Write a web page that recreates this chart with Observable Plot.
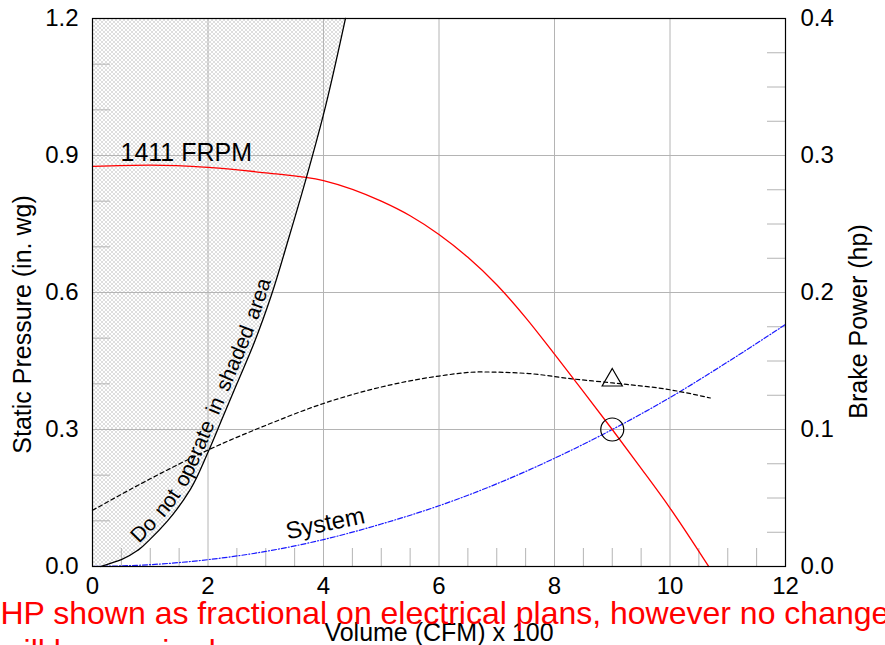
<!DOCTYPE html>
<html>
<head>
<meta charset="utf-8">
<script src="https://cdn.jsdelivr.net/npm/d3@7"></script>
<script src="https://cdn.jsdelivr.net/npm/@observablehq/plot@0.6"></script>
<style>
  html, body { margin: 0; padding: 0; background: #fff; overflow: hidden; }
</style>
</head>
<body>
<script>
// ---------- data ----------
// Fan curve, 1411 FRPM: volume (CFM x 100) vs static pressure (in. wg)
const fanQ  = [0, 1, 2, 3, 4, 5, 5.5, 6, 6.5, 7, 7.5, 8, 8.5, 9, 9.5, 10, 10.67];
const fanSP = [0.876, 0.879, 0.874, 0.862, 0.845, 0.80, 0.768, 0.727, 0.677, 0.617, 0.545, 0.465, 0.383, 0.30, 0.215, 0.128, 0];

// Brake power curve (hp, right axis)
const bhpQ = [0, 1, 2, 3, 4, 5, 6, 6.7, 7.5, 8.3, 9, 10, 10.7];
const bhpHP = [0.041, 0.064, 0.085, 0.103, 0.119, 0.131, 0.139, 0.142, 0.141, 0.137, 0.134, 0.129, 0.123];

// System curve
const sysQ  = [0, 1, 2, 3, 4, 5, 6, 7, 8, 9, 10, 11, 12];
const sysSP = [0, 0.004, 0.015, 0.033, 0.059, 0.093, 0.133, 0.181, 0.237, 0.300, 0.370, 0.448, 0.530];

// "Do not operate" boundary
const bndQ  = [0.14, 0.5, 0.8, 1.0, 1.3, 1.7, 2.0, 2.25, 2.5, 2.8, 3.1, 3.4, 3.7, 4.0, 4.38];
const bndSP = [0, 0.015, 0.037, 0.06, 0.10, 0.17, 0.25, 0.325, 0.40, 0.49, 0.595, 0.72, 0.85, 0.99, 1.2];

// Operating point
const opQ = [9];
const opSP = [0.30];
const opHP = [0.136];

// Axes
const xTicks = [0, 2, 4, 6, 8, 10, 12];
const xTickLabels = ["0", "2", "4", "6", "8", "10", "12"];
const yTicks = [0, 0.3, 0.6, 0.9, 1.2];
const yTickLabels = ["0.0", "0.3", "0.6", "0.9", "1.2"];
const hpTicks = [0, 0.1, 0.2, 0.3, 0.4];
const hpTickLabels = ["0.0", "0.1", "0.2", "0.3", "0.4"];
const hpToSP = 1.2 / 0.4;

const xTitle = "Volume (CFM) x 100";
const yTitle = "Static Pressure (in. wg)";
const y2Title = "Brake Power (hp)";
const fanLabel = "1411 FRPM";
const sysLabel = "System";
const shadeLabel = "Do not operate in shaded area";
const noteLines = ["HP shown as fractional on electrical plans, however no change", "will be required."];

// label anchors (data units)
const fanLabelQ = [0.485], fanLabelSP = [0.906];
const sysLabelQ = [4.03], sysLabelSP = [0.094];
const shadeStartQ = 0.86;

// ---------- build tables ----------
const fan = fanQ.map((q, i) => ({q, sp: fanSP[i]}));
const bhp = bhpQ.map((q, i) => ({q, sp: bhpHP[i] * hpToSP}));
const sys = sysQ.map((q, i) => ({q, sp: sysSP[i]}));
const bnd = bndQ.map((q, i) => ({q, sp: bndSP[i]}));
const op = opQ.map((q, i) => ({q, sp: opSP[i], hp: opHP[i] * hpToSP}));

const xMinor = d3.range(0.5, 12, 0.5).filter(v => v % 2 !== 0);
const yMinor = d3.range(0.1, 1.2, 0.1).filter(v => Math.abs(v / 0.3 - Math.round(v / 0.3)) > 1e-6);
const hpMinor = d3.range(0.025, 0.4, 0.025).filter(v => Math.abs(v / 0.1 - Math.round(v / 0.1)) > 1e-6).map(v => v * hpToSP);

const FONT = "Liberation Sans, Arial, Helvetica, sans-serif";
const GRID = "#b4b4b4";
const tickLenX = 18 / 57.75;   // ~18px in x data units
const tickLenY = 18 / 456.67;  // ~18px in y data units

const chart = Plot.plot({
  width: 885,
  height: 645,
  marginTop: 18,
  marginBottom: 79,
  marginLeft: 92,
  marginRight: 100,
  x: {domain: [0, 12], axis: null},
  y: {domain: [0, 1.2], axis: null},
  style: {fontFamily: FONT, background: "white", color: "black"},
  marks: [
    // shaded (do not operate) area
    Plot.areaX(bnd, {y: "sp", x1: () => 0, x2: "q", fill: "url(#hatch)", curve: "monotone-y"}),
    // grid
    Plot.ruleX(xTicks.slice(1, -1), {stroke: GRID, strokeWidth: 1}),
    Plot.ruleY(yTicks.slice(1, -1), {stroke: GRID, strokeWidth: 1}),
    // minor ticks (inside)
    Plot.ruleX(xMinor, {y1: () => 0, y2: () => tickLenY, stroke: GRID}),
    Plot.ruleY(yMinor, {x1: () => 0, x2: () => tickLenX, stroke: GRID}),
    Plot.ruleY(hpMinor, {x1: () => 12 - tickLenX, x2: () => 12, stroke: GRID}),
    // curves
    Plot.line(sys, {x: "q", y: "sp", stroke: "#1a1aff", strokeWidth: 1.2, strokeDasharray: "5,2,1,2", curve: "monotone-x"}),
    Plot.line(bhp, {x: "q", y: "sp", stroke: "black", strokeWidth: 1.2, strokeDasharray: "4,3", curve: "monotone-x"}),
    Plot.line(fan, {x: "q", y: "sp", stroke: "#ff0000", strokeWidth: 1.3, curve: "monotone-x"}),
    Plot.line(bnd, {x: "q", y: "sp", stroke: "black", strokeWidth: 1.3, curve: "monotone-y"}),
    // operating point markers
    Plot.dot(op, {x: "q", y: "sp", r: 11.5, stroke: "black", strokeWidth: 1.2, fill: "none"}),
    Plot.dot(op, {x: "q", y: "hp", r: 7.5, symbol: "triangle", stroke: "black", strokeWidth: 1.2, fill: "none"}),
    // frame
    Plot.frame({stroke: "black", strokeWidth: 1.2}),
    // tick labels
    Plot.text(xTicks, {x: d => d, y: () => 0, text: (d, i) => xTickLabels[i], dy: 20, fontSize: 24, fill: "black"}),
    Plot.text(yTicks, {x: () => 0, y: d => d, text: (d, i) => yTickLabels[i], dx: -14, textAnchor: "end", fontSize: 24, fill: "black"}),
    Plot.text(hpTicks, {x: () => 12, y: d => d * hpToSP, text: (d, i) => hpTickLabels[i], dx: 15, textAnchor: "start", fontSize: 24, fill: "black"}),
    // axis titles
    Plot.text([xTitle], {frameAnchor: "bottom", text: d => d, dy: 74, lineAnchor: "bottom", textAnchor: "middle", fontSize: 25, fill: "black"}),
    Plot.text([yTitle], {frameAnchor: "left", text: d => d, dx: -70, dy: 32, rotate: -90, textAnchor: "middle", fontSize: 25, fill: "black"}),
    Plot.text([y2Title], {frameAnchor: "right", text: d => d, dx: 73, dy: 29, rotate: -90, textAnchor: "middle", fontSize: 25, fill: "black"}),
    // curve labels
    Plot.text(fanLabelQ, {x: d => d, y: (d, i) => fanLabelSP[i], text: () => fanLabel, textAnchor: "start", fontSize: 25, fill: "black"}),
    Plot.text(sysLabelQ, {x: d => d, y: (d, i) => sysLabelSP[i], text: () => sysLabel, rotate: -12, fontSize: 24, fill: "black"}),
    // red note overlay
    Plot.text([noteLines[0]], {frameAnchor: "bottom-left", text: d => d, dx: -92, dy: 57, lineAnchor: "bottom", textAnchor: "start", fontSize: 32, fill: "#ff0000"}),
    Plot.text([noteLines[1]], {frameAnchor: "bottom-left", text: d => d, dx: -92, dy: 95, lineAnchor: "bottom", textAnchor: "start", fontSize: 32, fill: "#ff0000"})
  ]
});

document.body.appendChild(chart);

// hatch pattern for the shaded region
const ns = "http://www.w3.org/2000/svg";
const defs = document.createElementNS(ns, "defs");
const pat = document.createElementNS(ns, "pattern");
pat.setAttribute("id", "hatch");
pat.setAttribute("patternUnits", "userSpaceOnUse");
pat.setAttribute("width", "4");
pat.setAttribute("height", "4");
const bg = document.createElementNS(ns, "rect");
bg.setAttribute("width", "4"); bg.setAttribute("height", "4"); bg.setAttribute("fill", "#ffffff");
const hp = document.createElementNS(ns, "path");
hp.setAttribute("d", "M0,0L4,4M4,0L0,4");
hp.setAttribute("stroke", "#bcbcbc");
hp.setAttribute("stroke-width", "0.5");
pat.appendChild(bg); pat.appendChild(hp);
defs.appendChild(pat);
chart.insertBefore(defs, chart.firstChild);

// text along the boundary curve, positioned through Plot's scales
const sx = chart.scale("x"), sy = chart.scale("y");
const guide = document.createElementNS(ns, "path");
guide.setAttribute("id", "bndGuide");
guide.setAttribute("fill", "none");
guide.setAttribute("stroke", "none");
guide.setAttribute("d", d3.line().x(d => sx.apply(d.q)).y(d => sy.apply(d.sp)).curve(d3.curveMonotoneY)(bnd));
chart.appendChild(guide);
const total = guide.getTotalLength();
const targetX = sx.apply(shadeStartQ);
let lo = 0, hi = total;
for (let k = 0; k < 40; k++) {
  const mid = (lo + hi) / 2;
  if (guide.getPointAtLength(mid).x < targetX) lo = mid; else hi = mid;
}
const t = document.createElementNS(ns, "text");
t.setAttribute("font-family", FONT);
t.setAttribute("font-size", "21");
t.setAttribute("fill", "black");
t.setAttribute("text-anchor", "start");
t.setAttribute("dy", "-4");
t.setAttribute("word-spacing", "3");
const tp = document.createElementNS(ns, "textPath");
tp.setAttribute("href", "#bndGuide");
tp.setAttribute("startOffset", String(lo));
tp.setAttribute("text-anchor", "start");
tp.textContent = shadeLabel;
t.appendChild(tp);
chart.appendChild(t);
</script>
</body>
</html>
